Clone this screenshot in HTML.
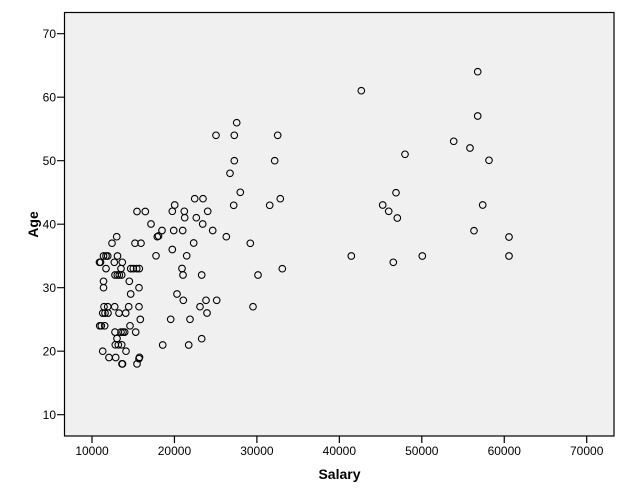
<!DOCTYPE html>
<html>
<head>
<meta charset="utf-8">
<style>
html,body{margin:0;padding:0;background:#fff;}
svg{display:block;}
text{font-family:"Liberation Sans",Arial,sans-serif;fill:#000;}
</style>
</head>
<body>
<svg width="627" height="502" viewBox="0 0 627 502" xmlns="http://www.w3.org/2000/svg">
<rect x="0" y="0" width="627" height="502" fill="#ffffff"/>
<rect x="64.5" y="12.5" width="549.5" height="423.5" fill="#f0f0f0" stroke="#000" stroke-width="1.2"/>
<path stroke="#000" stroke-width="1.2" fill="none" d="M57 414.7H64M57 351.2H64M57 287.7H64M57 224.2H64M57 160.7H64M57 97.2H64M57 33.7H64M92 436V443M174.45 436V443M256.9 436V443M339.35 436V443M421.8 436V443M504.25 436V443M586.7 436V443"/>
<g font-size="12" text-anchor="end">
<text x="56" y="419">10</text>
<text x="56" y="355.5">20</text>
<text x="56" y="292">30</text>
<text x="56" y="228.5">40</text>
<text x="56" y="165">50</text>
<text x="56" y="101.5">60</text>
<text x="56" y="38">70</text>
</g>
<g font-size="12" text-anchor="middle">
<text x="92" y="455">10000</text>
<text x="174.45" y="455">20000</text>
<text x="256.9" y="455">30000</text>
<text x="339.35" y="455">40000</text>
<text x="421.8" y="455">50000</text>
<text x="504.25" y="455">60000</text>
<text x="586.7" y="455">70000</text>
</g>
<text x="339.5" y="479" font-size="14" font-weight="bold" text-anchor="middle">Salary</text>
<text transform="translate(38,224.5) rotate(-90)" font-size="14" font-weight="bold" text-anchor="middle">Age</text>
<g fill="none" stroke="#000" stroke-width="1.1">
<circle cx="477.7" cy="71.7" r="3.3"/>
<circle cx="361.3" cy="90.7" r="3.3"/>
<circle cx="477.7" cy="116" r="3.3"/>
<circle cx="453.7" cy="141.3" r="3.3"/>
<circle cx="470" cy="148" r="3.3"/>
<circle cx="405" cy="154.3" r="3.3"/>
<circle cx="489" cy="160.3" r="3.3"/>
<circle cx="396" cy="192.7" r="3.3"/>
<circle cx="382.7" cy="205" r="3.3"/>
<circle cx="388.7" cy="211.3" r="3.3"/>
<circle cx="397.3" cy="218" r="3.3"/>
<circle cx="482.7" cy="205" r="3.3"/>
<circle cx="474" cy="230.7" r="3.3"/>
<circle cx="509" cy="237" r="3.3"/>
<circle cx="351.3" cy="256" r="3.3"/>
<circle cx="422.3" cy="256" r="3.3"/>
<circle cx="509" cy="256" r="3.3"/>
<circle cx="393.3" cy="262.3" r="3.3"/>
<circle cx="236.7" cy="122.7" r="3.3"/>
<circle cx="216" cy="135.3" r="3.3"/>
<circle cx="234.3" cy="135.3" r="3.3"/>
<circle cx="277.7" cy="135.3" r="3.3"/>
<circle cx="274.7" cy="160.7" r="3.3"/>
<circle cx="234.3" cy="160.7" r="3.3"/>
<circle cx="230" cy="173.3" r="3.3"/>
<circle cx="240.3" cy="192.3" r="3.3"/>
<circle cx="280.3" cy="198.7" r="3.3"/>
<circle cx="269.7" cy="205.3" r="3.3"/>
<circle cx="233.7" cy="205.3" r="3.3"/>
<circle cx="194.7" cy="198.7" r="3.3"/>
<circle cx="203" cy="198.7" r="3.3"/>
<circle cx="174.7" cy="205" r="3.3"/>
<circle cx="172.3" cy="211.3" r="3.3"/>
<circle cx="184.3" cy="211.3" r="3.3"/>
<circle cx="207.7" cy="211.3" r="3.3"/>
<circle cx="184.7" cy="217.7" r="3.3"/>
<circle cx="196.3" cy="217.7" r="3.3"/>
<circle cx="202.7" cy="224" r="3.3"/>
<circle cx="151" cy="224" r="3.3"/>
<circle cx="162" cy="230.5" r="3.3"/>
<circle cx="173.7" cy="230.5" r="3.3"/>
<circle cx="182.7" cy="230.5" r="3.3"/>
<circle cx="212.7" cy="230.5" r="3.3"/>
<circle cx="157.3" cy="236.7" r="3.3"/>
<circle cx="158.5" cy="236" r="3.3"/>
<circle cx="226.3" cy="236.7" r="3.3"/>
<circle cx="193.7" cy="243" r="3.3"/>
<circle cx="250.3" cy="243.3" r="3.3"/>
<circle cx="172.3" cy="249.5" r="3.3"/>
<circle cx="156" cy="255.8" r="3.3"/>
<circle cx="186.7" cy="255.8" r="3.3"/>
<circle cx="182" cy="268.5" r="3.3"/>
<circle cx="183" cy="275" r="3.3"/>
<circle cx="201.7" cy="275" r="3.3"/>
<circle cx="258" cy="275" r="3.3"/>
<circle cx="282.3" cy="268.7" r="3.3"/>
<circle cx="177" cy="294" r="3.3"/>
<circle cx="183.3" cy="300.3" r="3.3"/>
<circle cx="206" cy="300.3" r="3.3"/>
<circle cx="216.7" cy="300.3" r="3.3"/>
<circle cx="200" cy="306.7" r="3.3"/>
<circle cx="207" cy="313" r="3.3"/>
<circle cx="253" cy="306.7" r="3.3"/>
<circle cx="170.7" cy="319.3" r="3.3"/>
<circle cx="190" cy="319.3" r="3.3"/>
<circle cx="201.7" cy="338.7" r="3.3"/>
<circle cx="162.7" cy="345" r="3.3"/>
<circle cx="188.7" cy="345" r="3.3"/>
<circle cx="137" cy="211.5" r="3.3"/>
<circle cx="145.3" cy="211.5" r="3.3"/>
<circle cx="116.7" cy="236.7" r="3.3"/>
<circle cx="112" cy="243.2" r="3.3"/>
<circle cx="135" cy="243.2" r="3.3"/>
<circle cx="141" cy="243.2" r="3.3"/>
<circle cx="103.5" cy="256" r="3.3"/>
<circle cx="106" cy="256" r="3.3"/>
<circle cx="107.7" cy="256" r="3.3"/>
<circle cx="117.5" cy="256" r="3.3"/>
<circle cx="99.5" cy="262.3" r="3.3"/>
<circle cx="100.5" cy="262.3" r="3.3"/>
<circle cx="114.3" cy="262.3" r="3.3"/>
<circle cx="122.3" cy="262.3" r="3.3"/>
<circle cx="106" cy="268.6" r="3.3"/>
<circle cx="121" cy="268.6" r="3.3"/>
<circle cx="130.7" cy="268.6" r="3.3"/>
<circle cx="133.3" cy="268.6" r="3.3"/>
<circle cx="136.7" cy="268.6" r="3.3"/>
<circle cx="139.3" cy="268.6" r="3.3"/>
<circle cx="115" cy="275" r="3.3"/>
<circle cx="117.3" cy="275" r="3.3"/>
<circle cx="119.3" cy="275" r="3.3"/>
<circle cx="121.7" cy="275" r="3.3"/>
<circle cx="103.5" cy="281.3" r="3.3"/>
<circle cx="129.3" cy="281.3" r="3.3"/>
<circle cx="103.5" cy="287.7" r="3.3"/>
<circle cx="139" cy="287.7" r="3.3"/>
<circle cx="130.7" cy="294" r="3.3"/>
<circle cx="104" cy="306.7" r="3.3"/>
<circle cx="107.7" cy="306.7" r="3.3"/>
<circle cx="114.7" cy="306.7" r="3.3"/>
<circle cx="128.7" cy="306.7" r="3.3"/>
<circle cx="139" cy="306.7" r="3.3"/>
<circle cx="102.7" cy="313.1" r="3.3"/>
<circle cx="105" cy="313.1" r="3.3"/>
<circle cx="108" cy="313.1" r="3.3"/>
<circle cx="119" cy="313.1" r="3.3"/>
<circle cx="125.7" cy="313.1" r="3.3"/>
<circle cx="140.3" cy="319.4" r="3.3"/>
<circle cx="99.7" cy="325.8" r="3.3"/>
<circle cx="101.3" cy="325.8" r="3.3"/>
<circle cx="104.7" cy="325.8" r="3.3"/>
<circle cx="130" cy="325.8" r="3.3"/>
<circle cx="115" cy="332.1" r="3.3"/>
<circle cx="121" cy="332.1" r="3.3"/>
<circle cx="123" cy="332.1" r="3.3"/>
<circle cx="124.7" cy="332.1" r="3.3"/>
<circle cx="135.7" cy="332.1" r="3.3"/>
<circle cx="117" cy="338.5" r="3.3"/>
<circle cx="115.3" cy="344.8" r="3.3"/>
<circle cx="118.3" cy="344.8" r="3.3"/>
<circle cx="121.7" cy="344.8" r="3.3"/>
<circle cx="102.7" cy="351.2" r="3.3"/>
<circle cx="126" cy="351.2" r="3.3"/>
<circle cx="109" cy="357.5" r="3.3"/>
<circle cx="115.7" cy="357.5" r="3.3"/>
<circle cx="139.5" cy="357.3" r="3.3"/>
<circle cx="139" cy="358.6" r="3.3"/>
<circle cx="122" cy="363.9" r="3.3"/>
<circle cx="122.5" cy="363.9" r="3.3"/>
<circle cx="137" cy="363.9" r="3.3"/>
</g>
</svg>
</body>
</html>
